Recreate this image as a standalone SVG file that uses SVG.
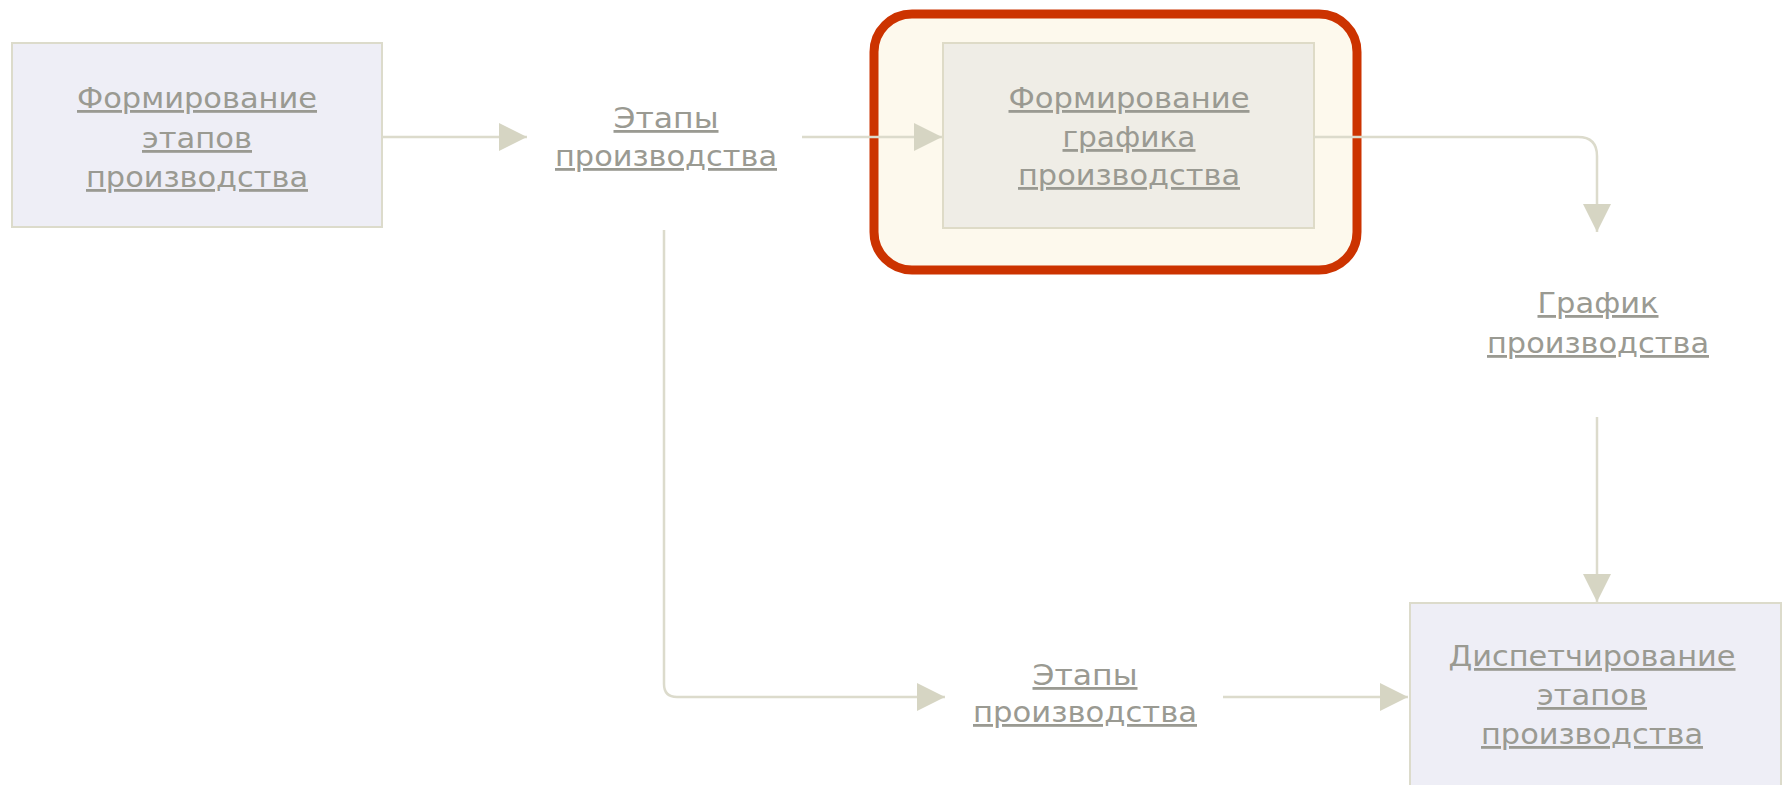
<svg xmlns="http://www.w3.org/2000/svg" width="1783" height="785" viewBox="0 0 1783 785">
  <style>
    .box { fill: #eeeef6; stroke: #dcdbcb; stroke-width: 2; }
    .box-active { fill: #efede6; stroke: #dedbc7; stroke-width: 2; }
    .focus { fill: #fdf9ed; stroke: #cc3300; stroke-width: 9; }
    .lbl { font-family: "DejaVu Sans", "Liberation Sans", sans-serif; font-size: 28px; fill: #9a9a92; text-anchor: middle; text-decoration: underline; }
    .wire { fill: none; stroke: #dcdbcc; stroke-width: 2.5; }
  </style>
  <defs>
    <marker id="arrow" markerUnits="userSpaceOnUse" markerWidth="28" markerHeight="28" refX="28" refY="14" orient="auto">
      <path d="M0,0 L28,14 L0,28 Z" fill="#d6d5c3"/>
    </marker>
  </defs>

  <rect width="1783" height="785" fill="#ffffff"/>

  <!-- process: stage formation -->
  <g id="node-stage-formation">
    <rect class="box" x="12" y="43" width="370" height="184"/>
    <text class="lbl" x="197" y="108" textLength="240" lengthAdjust="spacingAndGlyphs">Формирование</text>
    <text class="lbl" x="197" y="148" textLength="110" lengthAdjust="spacingAndGlyphs">этапов</text>
    <text class="lbl" x="197" y="187" textLength="222" lengthAdjust="spacingAndGlyphs">производства</text>
  </g>

  <!-- data: production stages -->
  <g id="node-stages-top">
    <text class="lbl" x="666" y="128" textLength="105" lengthAdjust="spacingAndGlyphs">Этапы</text>
    <text class="lbl" x="666" y="166" textLength="222" lengthAdjust="spacingAndGlyphs">производства</text>
  </g>

  <!-- process: schedule formation (current step) -->
  <g id="node-schedule-formation">
    <rect class="focus" x="874" y="14" width="483" height="256" rx="38" ry="38"/>
    <rect class="box-active" x="943" y="43" width="371" height="185"/>
    <text class="lbl" x="1129" y="108" textLength="241" lengthAdjust="spacingAndGlyphs">Формирование</text>
    <text class="lbl" x="1129" y="147" textLength="133" lengthAdjust="spacingAndGlyphs">графика</text>
    <text class="lbl" x="1129" y="185" textLength="222" lengthAdjust="spacingAndGlyphs">производства</text>
  </g>

  <!-- data: production schedule -->
  <g id="node-schedule">
    <text class="lbl" x="1598" y="313" textLength="121" lengthAdjust="spacingAndGlyphs">График</text>
    <text class="lbl" x="1598" y="353" textLength="222" lengthAdjust="spacingAndGlyphs">производства</text>
  </g>

  <!-- data: production stages (lower branch) -->
  <g id="node-stages-bottom">
    <text class="lbl" x="1085" y="685" textLength="105" lengthAdjust="spacingAndGlyphs">Этапы</text>
    <text class="lbl" x="1085" y="722" textLength="224" lengthAdjust="spacingAndGlyphs">производства</text>
  </g>

  <!-- process: stage dispatching -->
  <g id="node-dispatching">
    <rect class="box" x="1410" y="603" width="371" height="200"/>
    <text class="lbl" x="1592" y="666" textLength="287" lengthAdjust="spacingAndGlyphs">Диспетчирование</text>
    <text class="lbl" x="1592" y="705" textLength="110" lengthAdjust="spacingAndGlyphs">этапов</text>
    <text class="lbl" x="1592" y="744" textLength="222" lengthAdjust="spacingAndGlyphs">производства</text>
  </g>

  <g id="connectors">
    <path class="wire" d="M382,137 H527" marker-end="url(#arrow)"/>
    <path class="wire" d="M802,137 H942" marker-end="url(#arrow)"/>
    <path class="wire" d="M1314,137 H1578 Q1597,137 1597,156 V232" marker-end="url(#arrow)"/>
    <path class="wire" d="M1597,417 V602" marker-end="url(#arrow)"/>
    <path class="wire" d="M664,230 V684 Q664,697 677,697 H945" marker-end="url(#arrow)"/>
    <path class="wire" d="M1223,697 H1408" marker-end="url(#arrow)"/>
  </g>
</svg>
